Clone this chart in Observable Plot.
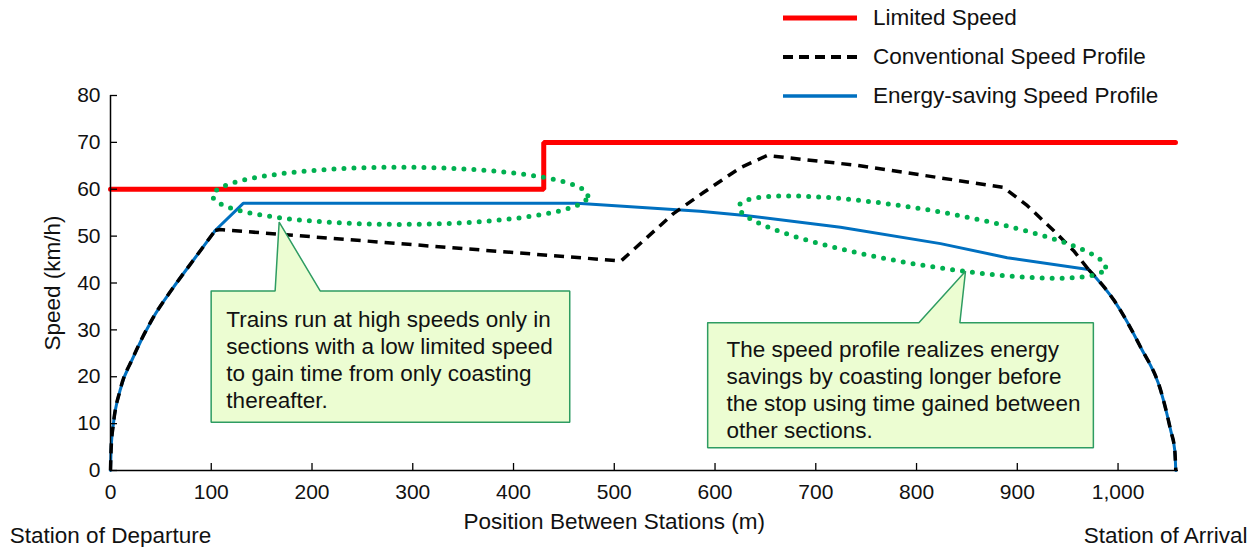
<!DOCTYPE html>
<html><head><meta charset="utf-8">
<script src="https://cdn.jsdelivr.net/npm/d3@7"></script>
<script src="https://cdn.jsdelivr.net/npm/@observablehq/plot@0.6"></script>
<style>
body{margin:0;background:#fff;font-family:"Liberation Sans",Arial,sans-serif;}
#wrap{position:relative;width:1257px;height:547px;}
#wrap svg.plot{position:absolute;left:0;top:0;}
.row{position:absolute;left:783px;height:40px;display:flex;align-items:center;font-size:22.5px;color:#111;white-space:nowrap;}
.row svg{margin-right:16px;display:block;}
</style></head><body><div id="wrap"></div>
<script>
// ---- data ----
const xTicks = [0,100,200,300,400,500,600,700,800,900,1000];
const yTicks = [0,10,20,30,40,50,60,70,80];

const limitedX = [0, 430, 430, 1057];
const limitedY = [60, 60, 70, 70];

// shared acceleration curve
const accelX = [0, 0.7, 2.9, 9.5, 22.4, 42.3, 62.2, 82.0, 103.9];
const accelY = [0, 5, 10, 17.1, 24.1, 32.6, 39.0, 44.8, 51.2];
// shared braking curve
const brakeX = [970.6, 996, 1022.4, 1042.3, 1052.3, 1056.3, 1057.3];
const brakeY = [42.9, 36.3, 26.3, 17.1, 8.5, 4.3, 0];

// conventional profile middle part
const convX = [108.8, 506.7, 558.7, 588.5, 625.2, 651.7, 741, 886.4, 910, 936, 955.9];
const convY = [51.4, 44.7, 54.8, 59.3, 64.6, 67.2, 65.1, 60.4, 56.5, 51.2, 46.9];

// energy-saving profile middle part
const energyX = [131.7, 463, 585, 630, 724.5, 823.8, 890];
const energyY = [57.0, 57.0, 55.3, 54.4, 51.9, 48.4, 45.4];

const seriesNames = ["Limited Speed", "Conventional Speed Profile", "Energy-saving Speed Profile"];

const xLabel = "Position Between Stations (m)";
const yLabel = "Speed (km/h)";
const departLabel = "Station of Departure";
const arriveLabel = "Station of Arrival";

const note1 = "Trains run at high speeds only in\nsections with a low limited speed\nto gain time from only coasting\nthereafter.";
const note2 = "The speed profile realizes energy\nsavings by coasting longer before\nthe stop using time gained between\nother sections.";

// callout boxes (data units): left, right, top, bottom, pointer base left/right, tip
const box1 = {l: 99.9, r: 455.8, t: 38.3, b: 10.3, pl: 163.4, pr: 208.1, tx: 167.4, ty: 53.0, textX: 115, textY: 34.6};
const box2 = {l: 592.7, r: 975.5, t: 31.5, b: 4.85, pl: 802.3, pr: 843.0, tx: 848.6, ty: 42.5, textX: 611.3, textY: 28.3};

// highlight ellipses: center, semi-diameter u, vertical semi-diameter v
const ell1 = {cx: 287.6, cy: 58.6, ux: 186.2, uy: 0, vy: 6.1};
const ell2 = {cx: 805.6, cy: 49.8, ux: 182.1, uy: -6.4, vy: 6.0};

// ---- build ----
const zip = (xs, ys) => xs.map((x, i) => ({x, y: ys[i]}));
const limited = zip(limitedX, limitedY);
const accel = zip(accelX, accelY);
const brake = zip(brakeX, brakeY);
const convMid = [accel[accel.length - 1], ...zip(convX, convY), brake[0]];
const energyMid = [accel[accel.length - 1], ...zip(energyX, energyY), brake[0]];

function boxPath(b) {
  return [
    {x: b.l, y: b.t}, {x: b.pl, y: b.t}, {x: b.tx, y: b.ty}, {x: b.pr, y: b.t},
    {x: b.r, y: b.t}, {x: b.r, y: b.b}, {x: b.l, y: b.b}, {x: b.l, y: b.t}
  ];
}
function ellipsePath(e) {
  const pts = [];
  const n = 240;
  for (let i = 0; i <= n; i++) {
    const t = 2 * Math.PI * i / n;
    pts.push({x: e.cx + e.ux * Math.cos(t), y: e.cy + e.uy * Math.cos(t) + e.vy * Math.sin(t)});
  }
  return pts;
}

const FONT = '"Liberation Sans", Arial, sans-serif';
const green = "#00b050";
const boxFill = "#ecfdd2";
const boxStroke = "#2e9c62";
const W = 1257, H = 547, ML = 110, MR = 79, MT = 95, MB = 77;
const TICK = 7;
const frameW = W - ML - MR, frameH = H - MT - MB;

const blue = {stroke: "#0070c0", strokeWidth: 3};
const dashed = {stroke: "#000", strokeWidth: 3.5, strokeDasharray: "10 7", strokeLinecap: "butt"};

const chart = Plot.plot({
  width: W,
  height: H,
  marginLeft: ML,
  marginRight: MR,
  marginTop: MT,
  marginBottom: MB,
  style: {fontFamily: FONT, fontSize: "21px", color: "#111", background: "transparent", overflow: "visible"},
  x: {domain: [0, 1060]},
  y: {domain: [0, 80]},
  marks: [
    Plot.line(limited, {x: "x", y: "y", stroke: "#ff0000", strokeWidth: 5, strokeLinejoin: "miter"}),
    Plot.line(accel, {x: "x", y: "y", curve: "monotone-x", ...blue}),
    Plot.line(energyMid, {x: "x", y: "y", ...blue}),
    Plot.line(brake, {x: "x", y: "y", curve: "monotone-x", ...blue}),
    Plot.line(accel, {x: "x", y: "y", curve: "monotone-x", ...dashed}),
    Plot.line(convMid, {x: "x", y: "y", ...dashed}),
    Plot.line(brake, {x: "x", y: "y", curve: "monotone-x", ...dashed}),
    Plot.line(ellipsePath(ell1), {x: "x", y: "y", stroke: green, strokeWidth: 5, strokeDasharray: "0 10", strokeLinecap: "round"}),
    Plot.line(ellipsePath(ell2), {x: "x", y: "y", stroke: green, strokeWidth: 5, strokeDasharray: "0 10", strokeLinecap: "round"}),
    Plot.line(boxPath(box1), {x: "x", y: "y", fill: boxFill, stroke: boxStroke, strokeWidth: 1.5, strokeLinejoin: "miter"}),
    Plot.line(boxPath(box2), {x: "x", y: "y", fill: boxFill, stroke: boxStroke, strokeWidth: 1.5, strokeLinejoin: "miter"}),
    Plot.text([note1], {x: box1.textX, y: box1.textY, text: d => d, textAnchor: "start", lineAnchor: "top", fontSize: 22.5, lineHeight: 1.2, fill: "#111"}),
    Plot.text([note2], {x: box2.textX, y: box2.textY, text: d => d, textAnchor: "start", lineAnchor: "top", fontSize: 22.5, lineHeight: 1.2, fill: "#111"}),
    // inward ticks
    Plot.tickX(xTicks, {x: d => d, insetTop: frameH - TICK, stroke: "#000", strokeWidth: 1.3}),
    Plot.tickY(yTicks, {y: d => d, insetRight: frameW - TICK, stroke: "#000", strokeWidth: 1.3}),
    Plot.ruleY([0], {stroke: "#000", strokeWidth: 1.5}),
    Plot.ruleX([0], {stroke: "#000", strokeWidth: 1.5}),
    Plot.axisX({ticks: xTicks, tickSize: 0, tickPadding: 14, tickFormat: d3.format(","), label: null, fontSize: 21}),
    Plot.axisY({ticks: yTicks, tickSize: 0, tickPadding: 10, label: null, fontSize: 21}),
    Plot.text([yLabel], {frameAnchor: "left", dx: -58, rotate: -90, text: d => d, textAnchor: "middle", lineAnchor: "middle", fontSize: 22.5}),
    Plot.text([xLabel], {x: d3.mean(xTicks), y: yTicks[0], dy: 51, text: d => d, textAnchor: "middle", lineAnchor: "middle", fontSize: 22.5}),
    Plot.text([departLabel], {x: xTicks[0], y: yTicks[0], dy: 65, text: d => d, textAnchor: "middle", lineAnchor: "middle", fontSize: 22.5}),
    Plot.text([arriveLabel], {frameAnchor: "bottom-right", dx: 69, dy: 65, text: d => d, textAnchor: "end", lineAnchor: "middle", fontSize: 22.5})
  ]
});
chart.classList.add("plot");
const wrap = document.getElementById("wrap");
wrap.appendChild(chart);

// legend (HTML overlay)
const legendStyles = [
  {stroke: "#ff0000", width: 5, dash: null, center: 18},
  {stroke: "#000", width: 4, dash: "10 6", center: 57},
  {stroke: "#0070c0", width: 3.5, dash: null, center: 96}
];
seriesNames.forEach((name, i) => {
  const s = legendStyles[i];
  const row = document.createElement("div");
  row.className = "row";
  row.style.top = (s.center - 20) + "px";
  row.innerHTML = `<svg width="74" height="10"><line x1="0" y1="5" x2="74" y2="5" stroke="${s.stroke}" stroke-width="${s.width}" ${s.dash ? `stroke-dasharray="${s.dash}"` : ""}/></svg><span>${name}</span>`;
  wrap.appendChild(row);
});
</script>
</body></html>
